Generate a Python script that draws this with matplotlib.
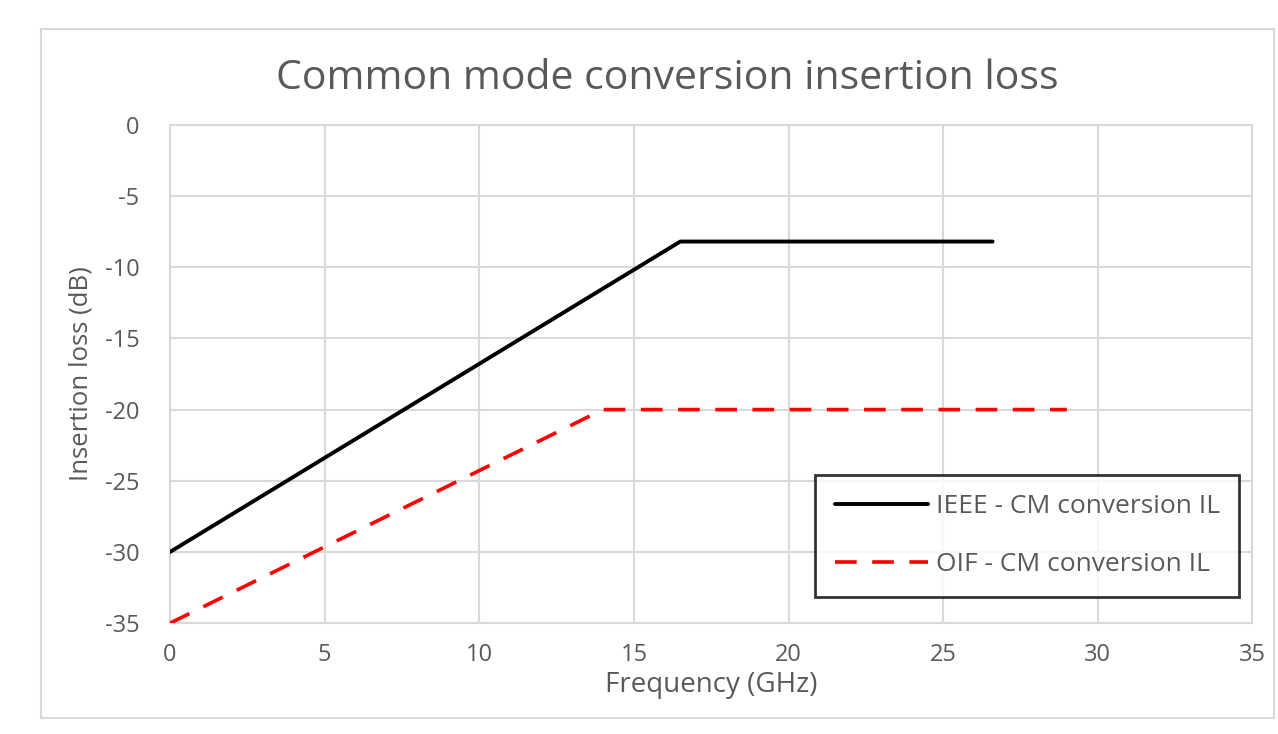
import matplotlib
matplotlib.use('Agg')
from matplotlib import pyplot as plt
from matplotlib.patches import Rectangle

plt.rcParams['font.family'] = ['Open Sans', 'DejaVu Sans']
plt.rcParams['axes.unicode_minus'] = False

# data
ieee_freq = [0, 16.5, 26.6]
ieee_il = [-30, -8.2, -8.2]
oif_freq = [0, 14, 29]
oif_il = [-35, -20, -20]

x_ticks = [0, 5, 10, 15, 20, 25, 30, 35]
y_ticks = [0, -5, -10, -15, -20, -25, -30, -35]

text_color = '#595959'
grid_color = '#d9d9d9'

fig = plt.figure(figsize=(12.78, 7.34), dpi=100)
ax = fig.add_axes([0.133, 0.151, 0.847, 0.679])

# chart area border
fig.patches.append(Rectangle((0.032, 0.022), 0.965, 0.938, transform=fig.transFigure,
                             fill=False, edgecolor='#d9d9d9', linewidth=1.5))

ax.plot(ieee_freq, ieee_il, color='black', linewidth=2.8, label='IEEE - CM conversion IL',
        solid_capstyle='round', zorder=3)
ax.plot(oif_freq, oif_il, color='#ff0000', linewidth=2.6, linestyle=(0, (6, 4.3)),
        label='OIF - CM conversion IL', zorder=3)

ax.set_xlim(0, 35)
ax.set_ylim(-35, 0)
ax.set_xticks(x_ticks)
ax.set_yticks(y_ticks)
ax.grid(True, color=grid_color, linewidth=1.5)
ax.set_axisbelow(True)
for s in ax.spines.values():
    s.set_color(grid_color)
    s.set_linewidth(1.5)
ax.tick_params(length=0, labelsize=17, labelcolor=text_color)
ax.tick_params(axis='y', pad=22)
ax.tick_params(axis='x', pad=14)

ax.set_xlabel('Frequency (GHz)', fontsize=20, color=text_color, labelpad=3)
ax.set_ylabel('Insertion loss (dB)', fontsize=18.5, color=text_color, labelpad=8)
fig.text(0.522, 0.893, 'Common mode conversion insertion loss', ha='center', va='center',
         fontsize=29.5, color=text_color)

leg = ax.legend(loc='lower right', bbox_to_anchor=(0.988, 0.052), borderaxespad=0,
                fontsize=19, labelcolor=text_color, frameon=True, fancybox=False,
                handlelength=3.5, labelspacing=1.25, borderpad=0.75, handletextpad=0.3)
leg.get_frame().set_edgecolor('black')
leg.get_frame().set_linewidth(2)

fig.savefig('out.png', dpi=100, facecolor='white')
